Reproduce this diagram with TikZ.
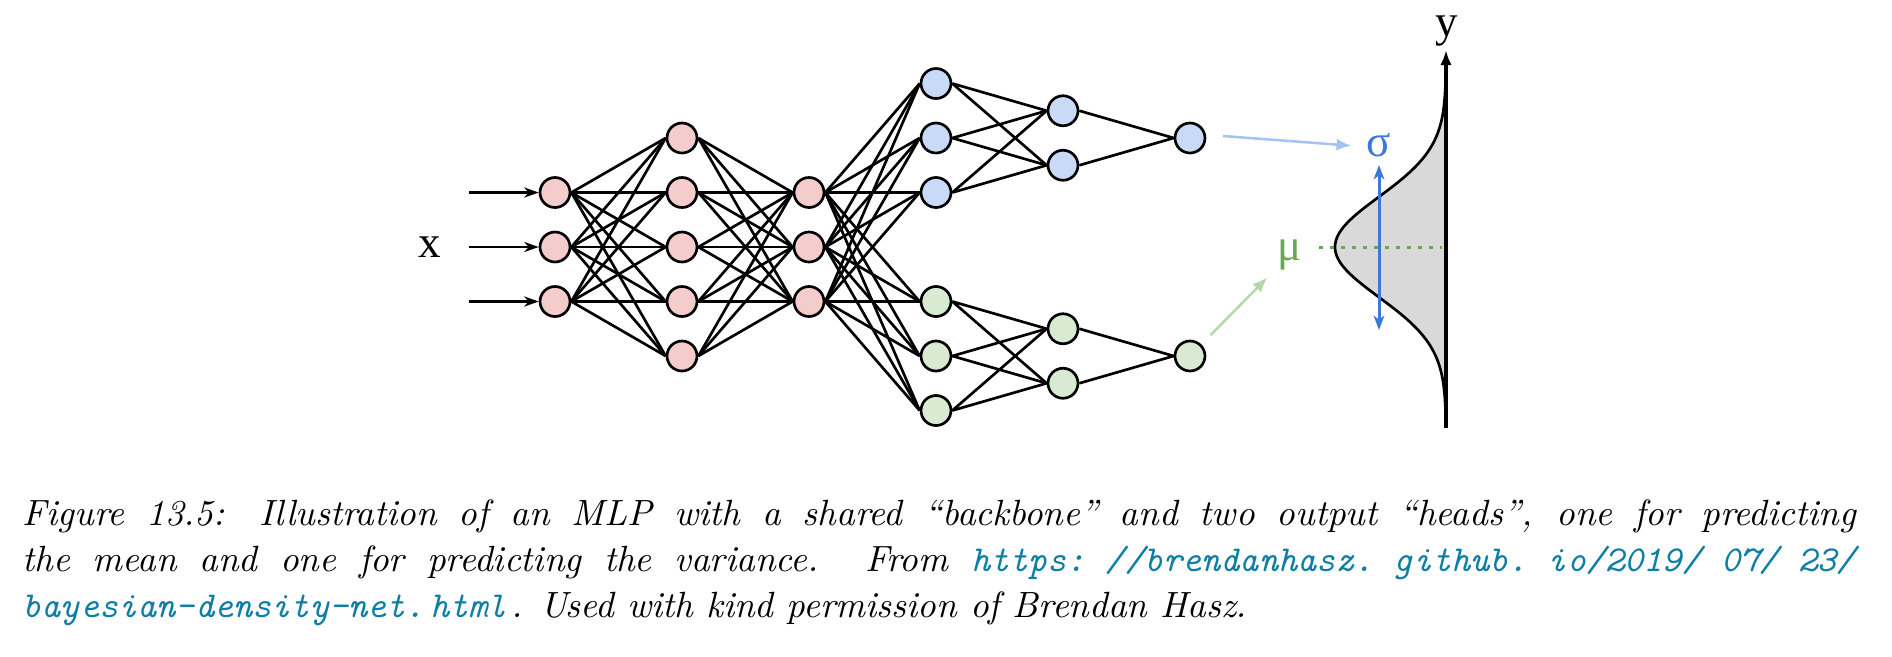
\documentclass[tikz,border=0pt]{standalone}
\usepackage{fontspec}
\newfontfamily\lblfont{Liberation Serif}
\usepackage{tikz}
\usetikzlibrary{arrows.meta}

\definecolor{pinkfill}{HTML}{F4CCCC}
\definecolor{bluefill}{HTML}{C9DAF8}
\definecolor{greenfill}{HTML}{D9EAD3}
\definecolor{bluearrow}{HTML}{A4C2F4}
\definecolor{greenarrow}{HTML}{B6D7A8}
\definecolor{sigblue}{HTML}{3C78D8}
\definecolor{mugreen}{HTML}{6AA84F}
\definecolor{curvefill}{HTML}{D9D9D9}
\definecolor{linkcol}{RGB}{13,126,164}

\newlength{\capw}
\setlength{\capw}{550pt}
\newcommand{\ubr}{\hskip 1.5pt plus 3pt\relax}

\begin{document}
\begin{tikzpicture}[x=0.3pt, y=-0.3pt,
    unit/.style={circle, draw, line width=0.8pt, minimum size=9pt, inner sep=0pt},
    wire/.style={line width=0.8pt},
    headarrow/.style={line width=0.75pt, -{Latex[length=4.5pt,width=3.6pt]}},
    lbl/.style={font=\lblfont\fontsize{13.5}{16}\selectfont, inner sep=0pt},
    capline/.style={anchor=base west, inner sep=0pt, font=\fontsize{10.95}{13.6}\selectfont\itshape}]
    \useasboundingbox (0,0) rectangle (1892,656);

    % shared backbone
    \foreach \i/\yy in {1/192.5, 2/247, 3/301.5} {
        \node[unit, fill=pinkfill] (a\i) at (555,\yy) {};
        \node[unit, fill=pinkfill] (c\i) at (809,\yy) {};
        \coordinate (in\i) at (469,\yy);
    }
    \foreach \i/\yy in {1/138, 2/192.5, 3/247, 4/301.5, 5/356}
        \node[unit, fill=pinkfill] (b\i) at (682,\yy) {};

    % sigma head (top) and mu head (bottom)
    \foreach \i/\ys/\ym in {1/83.5/301.5, 2/138/356, 3/192.5/410.5} {
        \node[unit, fill=bluefill] (s\i) at (936,\ys) {};
        \node[unit, fill=greenfill] (m\i) at (936,\ym) {};
    }
    \foreach \i/\ys/\ym in {1/110.75/328.75, 2/165.25/383.25} {
        \node[unit, fill=bluefill] (t\i) at (1063,\ys) {};
        \node[unit, fill=greenfill] (n\i) at (1063,\ym) {};
    }
    \node[unit, fill=bluefill] (so) at (1190,138) {};
    \node[unit, fill=greenfill] (mo) at (1190,356) {};

    % inputs
    \node[lbl, anchor=base] (xlab) at (430,257) {x};
    \foreach \i in {1,2,3}
        \draw[wire, -{Stealth[length=4.3pt,width=3pt,inset=1.3pt]}] (in\i) -- (a\i.west);

    % weights
    \foreach \i in {1,2,3}
        \foreach \j in {1,...,5} {
            \draw[wire] (a\i.east) -- (b\j.west);
            \draw[wire] (b\j.east) -- (c\i.west);
        }
    \foreach \i in {1,2,3}
        \foreach \j in {1,2,3} {
            \draw[wire] (c\i.east) -- (s\j.west);
            \draw[wire] (c\i.east) -- (m\j.west);
        }
    \foreach \i in {1,2,3}
        \foreach \j in {1,2} {
            \draw[wire] (s\i.east) -- (t\j.west);
            \draw[wire] (m\i.east) -- (n\j.west);
        }
    \foreach \j in {1,2} {
        \draw[wire] (t\j.east) -- (so.west);
        \draw[wire] (n\j.east) -- (mo.west);
    }

    % output density: N(mu, sigma) along y
    \filldraw[fill=curvefill, line width=0.8pt, domain=-3.6:3.6, samples=120]
        plot ({1446-111*exp(-0.5*\x*\x)}, {247+50*\x}) -- cycle;
    \coordinate (ybot) at (1446,428);
    \coordinate (ytop) at (1446,50);
    \draw[line width=1pt, -{Latex[length=4.5pt,width=3.4pt]}] (ybot) -- (ytop);
    \node[lbl, anchor=base] (ylab) at (1447,36) {y};

    \coordinate (mul) at (1319,247);
    \coordinate (mur) at (1442,247);
    \draw[mugreen, line width=0.9pt, dash pattern=on 1.2pt off 2.1pt] (mul) -- (mur);
    \coordinate (sigtop) at (1379,165);
    \coordinate (sigbot) at (1379,330);
    \draw[sigblue, line width=0.9pt, {Stealth[length=4.3pt,width=3.2pt,inset=1.2pt]}-{Stealth[length=4.3pt,width=3.2pt,inset=1.2pt]}] (sigtop) -- (sigbot);

    \node[lbl, text=sigblue, anchor=base] (sig) at (1379,156) {σ};
    \node[lbl, text=mugreen, anchor=base] (mu) at (1290,260) {μ};
    \draw[headarrow, bluearrow] ([xshift=5pt, yshift=0.6pt]so.east) -- ([xshift=-4.4pt, yshift=-0.3pt]sig.west);
    \draw[headarrow, greenarrow, shorten <=3.9pt, shorten >=4.2pt] (mo) -- (mu);

    % caption
    \node[capline] (cap1) at (22,525) {\hbox to \capw{Figure 13.5: Illustration of an MLP with a shared ``backbone'' and two output ``heads'', one for predicting}};
    \node[capline] (cap2) at (22,571) {\hbox to \capw{the mean and one for predicting the variance.  From {\color{linkcol}\ttfamily https:\ubr//brendanhasz.\ubr github.\ubr io/2019/\ubr 07/\ubr 23/}}};
    \node[capline] (cap3) at (22,617) {{\color{linkcol}\ttfamily bayesian-density-net.\ubr html}\ubr. Used with kind permission of Brendan Hasz.};
\end{tikzpicture}
\end{document}
